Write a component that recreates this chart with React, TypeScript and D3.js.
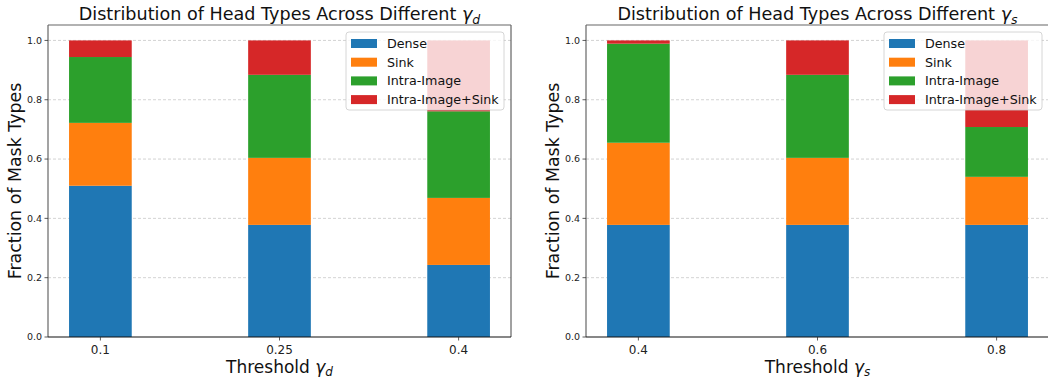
import React from "react";
import * as d3 from "d3";

const seriesNames = ["Dense", "Sink", "Intra-Image", "Intra-Image+Sink"];
const seriesColors = ["#1f77b4", "#ff7f0e", "#2ca02c", "#d62728"];

const categoriesD = ["0.1", "0.25", "0.4"];
const denseD = [0.51, 0.378, 0.243];
const sinkD = [0.212, 0.226, 0.226];
const intraD = [0.222, 0.28, 0.292];
const intraSinkD = [0.056, 0.116, 0.239];

const categoriesS = ["0.4", "0.6", "0.8"];
const denseS = [0.378, 0.378, 0.378];
const sinkS = [0.277, 0.226, 0.162];
const intraS = [0.334, 0.28, 0.168];
const intraSinkS = [0.011, 0.116, 0.292];

const yTicks = [0, 0.2, 0.4, 0.6, 0.8, 1.0];

const FONT = "DejaVu Sans, sans-serif";
const W = 1048;
const H = 379;
const TOP = 25;
const BOTTOM = 337;
const BAR_W = 0.35;

function Panel({ x0, x1, cats, series, sub }: { x0: number; x1: number; cats: string[]; series: number[][]; sub: string }) {
  const x = d3.scaleLinear().domain([-0.2925, cats.length - 1 + 0.2925]).range([x0, x1]);
  const y = d3.scaleLinear().domain([0, 1.052]).range([BOTTOM, TOP]);
  const stack = d3.stack<number[]>().keys(series.map((_, i) => String(i))).value((d, k) => d[+k]);
  const rows = cats.map((_, ci) => series.map((s) => s[ci]));
  const stacked = stack(rows as any);
  const cx = (x0 + x1) / 2;
  const legX = x1 - 7 - 158;
  const legY = TOP + 7;
  return (
    <g>
      {yTicks.slice(1).map((t) => (
        <line key={t} x1={x0} x2={x1} y1={y(t)} y2={y(t)} stroke="#b0b0b0" strokeOpacity={0.7} strokeWidth={0.8} strokeDasharray="3,2" />
      ))}
      {stacked.map((layer, si) =>
        layer.map((d, ci) => (
          <rect key={si + "-" + ci} x={x(ci - BAR_W / 2)} width={x(BAR_W) - x(0)} y={y(d[1])} height={y(d[0]) - y(d[1])} fill={seriesColors[si]} />
        ))
      )}
      <line x1={x0} x2={x0} y1={TOP} y2={BOTTOM} stroke="#666" strokeWidth={1.2} />
      <line x1={x1} x2={x1} y1={TOP} y2={BOTTOM} stroke="#444" strokeWidth={1} />
      <line x1={x0} x2={x1} y1={TOP} y2={TOP} stroke="#666" strokeWidth={1.2} />
      <line x1={x0} x2={x1} y1={BOTTOM} y2={BOTTOM} stroke="#111" strokeWidth={1.2} />
      {yTicks.map((t) => (
        <g key={t}>
          <line x1={x0 - 3.5} x2={x0} y1={y(t)} y2={y(t)} stroke="#333" strokeWidth={0.8} />
          <text x={x0 - 6} y={y(t)} dy="0.35em" textAnchor="end" fontSize={9.5} fill="#222" fontFamily={FONT}>{t.toFixed(1)}</text>
        </g>
      ))}
      {cats.map((c, i) => (
        <g key={c}>
          <line x1={x(i)} x2={x(i)} y1={BOTTOM} y2={BOTTOM + 3.5} stroke="#333" strokeWidth={0.8} />
          <text x={x(i)} y={BOTTOM + 17} textAnchor="middle" fontSize={12} fill="#222" fontFamily={FONT}>{c}</text>
        </g>
      ))}
      <text x={cx} y={20} textAnchor="middle" fontSize={17.6} fill="#111" fontFamily={FONT}>
        Distribution of Head Types Across Different <tspan fontStyle="italic">γ</tspan>
        <tspan fontStyle="italic" fontSize={12.5} dy={4}>{sub}</tspan>
      </text>
      <text x={cx} y={373} textAnchor="middle" fontSize={17} fill="#111" fontFamily={FONT}>
        Threshold <tspan fontStyle="italic">γ</tspan>
        <tspan fontStyle="italic" fontSize={12} dy={2.5}>{sub}</tspan>
      </text>
      <text transform={`translate(${x0 - 27},${(TOP + BOTTOM) / 2}) rotate(-90)`} textAnchor="middle" fontSize={17.4} fill="#111" fontFamily={FONT}>
        Fraction of Mask Types
      </text>
      <rect x={legX} y={legY} width={158} height={78} rx={3} fill="#fff" fillOpacity={0.8} stroke="#ccc" strokeWidth={0.8} />
      {seriesNames.map((n, i) => (
        <g key={n}>
          <rect x={legX + 5} y={legY + 7 + i * 18.7} width={26} height={9} fill={seriesColors[i]} />
          <text x={legX + 41} y={legY + 11.5 + i * 18.7} dy="0.35em" fontSize={12.7} fill="#111" fontFamily={FONT}>{n}</text>
        </g>
      ))}
    </g>
  );
}

export default function App() {
  return (
    <svg width={W} height={H} style={{ position: "absolute", left: 0, top: 0, background: "#fff" }}>
      <rect width={W} height={H} fill="#fff" />
      <Panel x0={48} x1={511} cats={categoriesD} series={[denseD, sinkD, intraD, intraSinkD]} sub="d" />
      <Panel x0={586} x1={1049} cats={categoriesS} series={[denseS, sinkS, intraS, intraSinkS]} sub="s" />
    </svg>
  );
}
